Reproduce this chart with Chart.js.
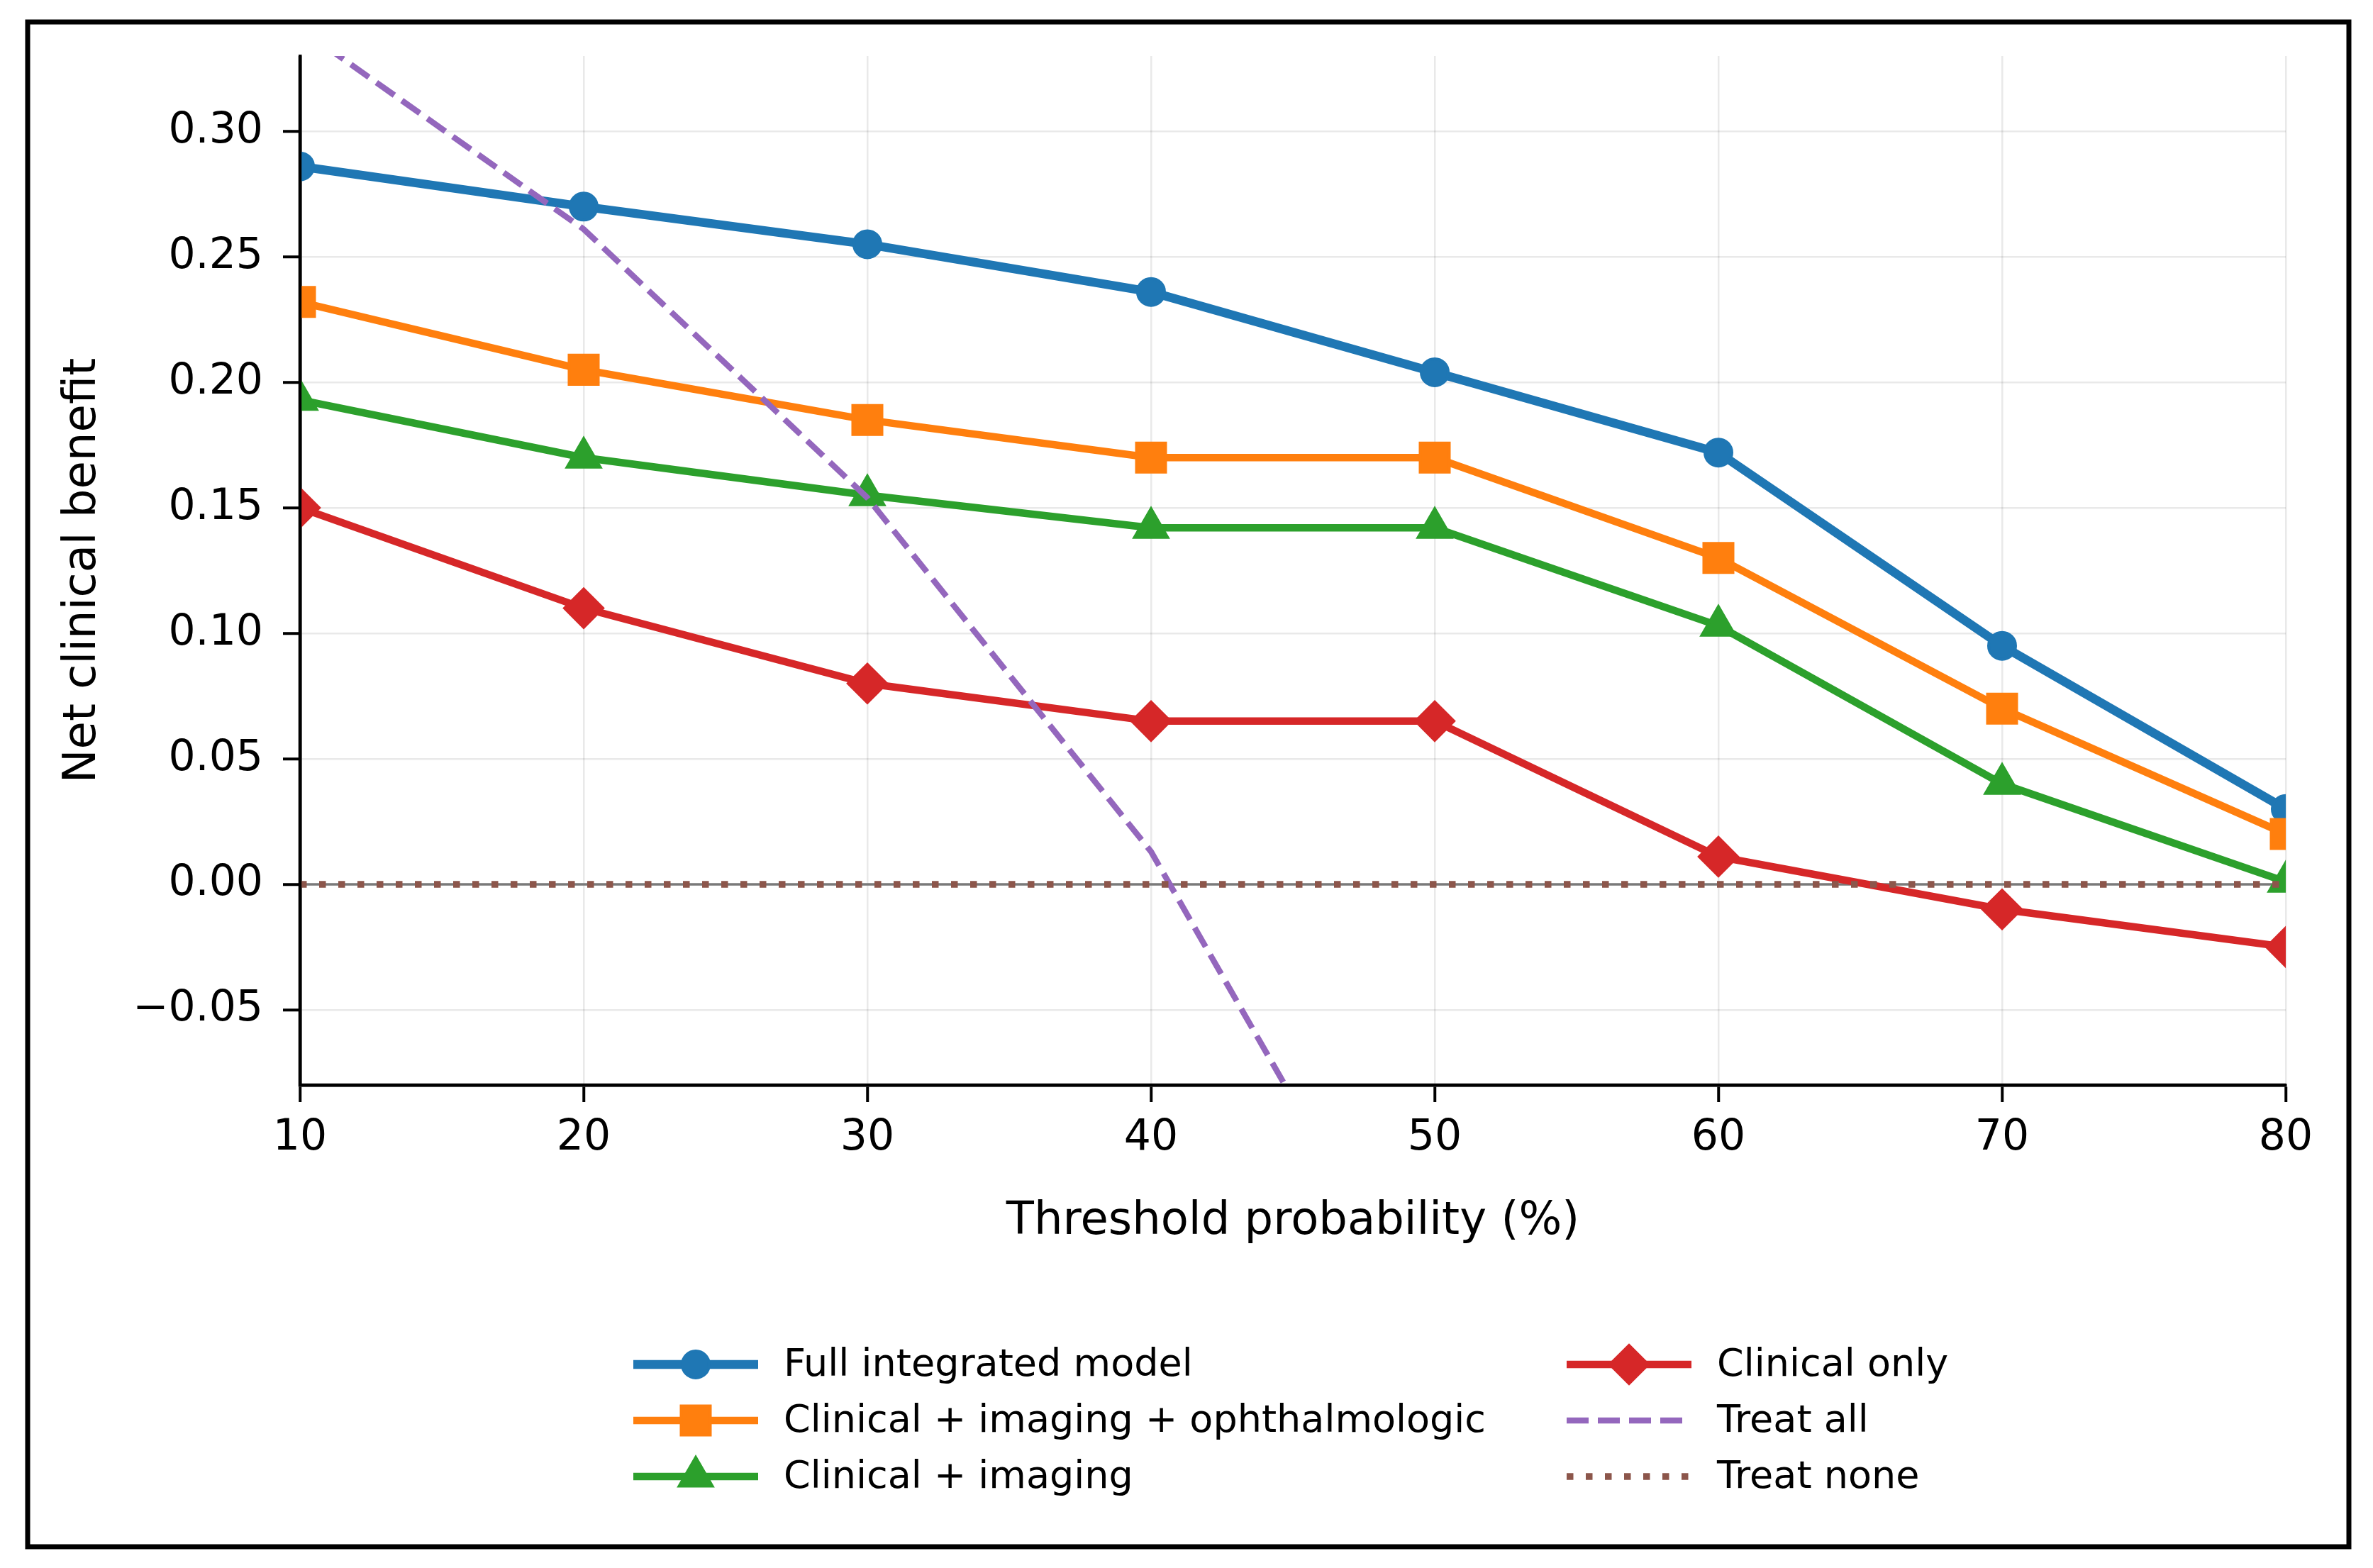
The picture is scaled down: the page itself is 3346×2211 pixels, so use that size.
<!DOCTYPE html>
<html lang="en">
<head>
<meta charset="UTF-8">
<title>Decision curve analysis</title>
<script src="https://cdn.jsdelivr.net/npm/chart.js@4.4.1/dist/chart.umd.min.js"></script>
<style>
  html, body { margin: 0; padding: 0; background: #fff; }
  #wrap { width: 3346px; height: 2211px; }
  canvas { display: block; }
</style>
</head>
<body>
<div id="wrap"><canvas id="dca" width="3346" height="2211"></canvas></div>
<script>
// Threshold probability (%) and net benefit
const thresholds   = [10, 20, 30, 40, 50, 60, 70, 80];
const fullModel    = [0.286, 0.270, 0.255, 0.236, 0.204, 0.172, 0.095, 0.030];
const clinImgOph   = [0.232, 0.205, 0.185, 0.170, 0.170, 0.130, 0.070, 0.020];
const clinImg      = [0.193, 0.170, 0.155, 0.142, 0.142, 0.103, 0.040, 0.001];
const clinicalOnly = [0.150, 0.110, 0.080, 0.065, 0.065, 0.011, -0.010, -0.025];
const treatAll     = [0.341, 0.261, 0.154, 0.013, -0.184, -0.480, -0.970, -1.960];
const treatNone    = [0, 0, 0, 0, 0, 0, 0, 0];

const xTicks = [10, 20, 30, 40, 50, 60, 70, 80];
const yTicks = [-0.05, 0.00, 0.05, 0.10, 0.15, 0.20, 0.25, 0.30];

const FONT = "'DejaVu Sans', sans-serif";
const toXY = arr => thresholds.map((t, i) => ({ x: t, y: arr[i] }));

function series(label, values, color, style) {
    return Object.assign({
        label: label,
        data: toXY(values),
        borderColor: color,
        backgroundColor: color,
        pointBackgroundColor: color,
        pointBorderColor: color,
        borderWidth: 10.5,
        pointBorderWidth: 4,
        tension: 0,
        clip: 0
    }, style);
}

const datasets = [
    series('Full integrated model', fullModel, '#1f77b4',
        { borderWidth: 12.5, pointStyle: 'circle', pointRadius: 19, order: 6 }),
    series('Clinical + imaging + ophthalmologic', clinImgOph, '#ff7f0e',
        { pointStyle: 'rect', pointRadius: 29, order: 5 }),
    series('Clinical + imaging', clinImg, '#2ca02c',
        { pointStyle: 'triangle', pointRadius: 27, order: 4 }),
    series('Clinical only', clinicalOnly, '#d62728',
        { pointStyle: 'rectRot', pointRadius: 27, order: 3 }),
    series('Treat all', treatAll, '#9467bd',
        { borderWidth: 8.3, borderDash: [31, 13], pointRadius: 0, order: 2 }),
    series('Treat none', treatNone, '#8c564b',
        { borderWidth: 9.5, borderDash: [9.5, 17.5], borderCapStyle: 'butt', pointRadius: 0, order: 1 }),
    // thin grey reference line at zero, under the dotted "treat none"
    series('', treatNone, '#7a7a7a',
        { borderWidth: 3.5, pointRadius: 0, order: 10, noLegend: true })
];

// legend drawn on the canvas in two columns, like the original
const legendBox = { cols: [893, 2209], rows: [1924, 2003, 2082], handle: 176, gap: 36 };

function marker(ctx, style, r, x, y) {
    ctx.beginPath();
    if (style === 'circle') {
        ctx.arc(x, y, r, 0, Math.PI * 2);
    } else if (style === 'rect') {
        const s = r * Math.SQRT1_2;
        ctx.rect(x - s, y - s, 2 * s, 2 * s);
    } else if (style === 'triangle') {
        ctx.moveTo(x, y - r);
        ctx.lineTo(x + r * Math.cos(Math.PI / 6), y + r / 2);
        ctx.lineTo(x - r * Math.cos(Math.PI / 6), y + r / 2);
        ctx.closePath();
    } else if (style === 'rectRot') {
        ctx.moveTo(x - r, y);
        ctx.lineTo(x, y - r);
        ctx.lineTo(x + r, y);
        ctx.lineTo(x, y + r);
        ctx.closePath();
    }
    ctx.fill();
    ctx.stroke();
}

const legendPlugin = {
    id: 'colLegend',
    afterDraw(chart) {
        const ctx = chart.ctx;
        const items = chart.data.datasets.filter(d => !d.noLegend);
        ctx.save();
        items.forEach((d, i) => {
            const col = Math.floor(i / 3), row = i % 3;
            const x0 = legendBox.cols[col], y = legendBox.rows[row];
            ctx.strokeStyle = d.borderColor;
            ctx.lineWidth = d.borderWidth;
            ctx.lineCap = 'butt';
            ctx.setLineDash(d.borderDash || []);
            ctx.beginPath();
            ctx.moveTo(x0, y);
            ctx.lineTo(x0 + legendBox.handle, y);
            ctx.stroke();
            ctx.setLineDash([]);
            if (d.pointRadius > 0) {
                ctx.fillStyle = d.pointBackgroundColor;
                ctx.lineWidth = d.pointBorderWidth;
                marker(ctx, d.pointStyle, d.pointRadius, x0 + legendBox.handle / 2, y);
            }
            ctx.fillStyle = '#000';
            ctx.font = '54px ' + FONT;
            ctx.textAlign = 'left';
            ctx.textBaseline = 'middle';
            ctx.fillText(d.label, x0 + legendBox.handle + legendBox.gap, y + 2);
        });
        ctx.restore();
    }
};

// white page, outer black frame, spines on top of the data
const framePlugin = {
    id: 'frame',
    beforeDraw(chart) {
        const ctx = chart.ctx;
        ctx.save();
        ctx.fillStyle = '#fff';
        ctx.fillRect(0, 0, chart.width, chart.height);
        ctx.restore();
    },
    afterDatasetsDraw(chart) {
        const { ctx, chartArea: a } = chart;
        ctx.save();
        ctx.strokeStyle = '#000';
        ctx.lineWidth = 4.5;
        ctx.beginPath();
        ctx.moveTo(a.left, a.top);
        ctx.lineTo(a.left, a.bottom + 2.25);
        ctx.moveTo(a.left - 2.25, a.bottom);
        ctx.lineTo(a.right, a.bottom);
        ctx.stroke();
        ctx.restore();
    },
    afterDraw(chart) {
        const ctx = chart.ctx;
        ctx.save();
        ctx.strokeStyle = '#000';
        ctx.lineWidth = 7;
        ctx.strokeRect(39, 31, 3273, 2150);
        ctx.restore();
    }
};

const axisGrid = {
    color: 'rgba(0,0,0,0.085)',
    lineWidth: 2.5,
    tickColor: '#000',
    tickWidth: 4,
    tickLength: 24
};

new Chart(document.getElementById('dca'), {
    type: 'line',
    data: { datasets: datasets },
    plugins: [framePlugin, legendPlugin],
    options: {
        responsive: false,
        animation: false,
        devicePixelRatio: 1,
        events: [],
        layout: { padding: { left: 60, top: 79, right: 123, bottom: 431 } },
        plugins: { legend: { display: false }, tooltip: { enabled: false } },
        scales: {
            x: {
                type: 'linear',
                min: 10,
                max: 80,
                afterBuildTicks: s => { s.ticks = xTicks.map(v => ({ value: v })); },
                afterFit: s => { s.height = 250; },
                grid: axisGrid,
                border: { display: true, color: '#000', width: 4.5 },
                ticks: {
                    color: '#000',
                    padding: 15,
                    maxRotation: 0,
                    font: { family: FONT, size: 60 },
                    callback: v => String(v)
                },
                title: {
                    display: true,
                    text: 'Threshold probability (%)',
                    color: '#000',
                    font: { family: FONT, size: 64 },
                    padding: { top: 0, bottom: 18 }
                }
            },
            y: {
                type: 'linear',
                min: -0.08,
                max: 0.33,
                afterBuildTicks: s => { s.ticks = yTicks.map(v => ({ value: v })); },
                afterFit: s => { s.width = 363; },
                grid: axisGrid,
                border: { display: true, color: '#000', width: 4.5 },
                ticks: {
                    color: '#000',
                    padding: 28,
                    font: { family: FONT, size: 60 },
                    callback: v => v.toFixed(2).replace('-', '\u2212')
                },
                title: {
                    display: true,
                    text: 'Net clinical benefit',
                    color: '#000',
                    font: { family: FONT, size: 64 },
                    padding: { top: 19, bottom: 0 }
                }
            }
        }
    }
});
</script>
</body>
</html>
